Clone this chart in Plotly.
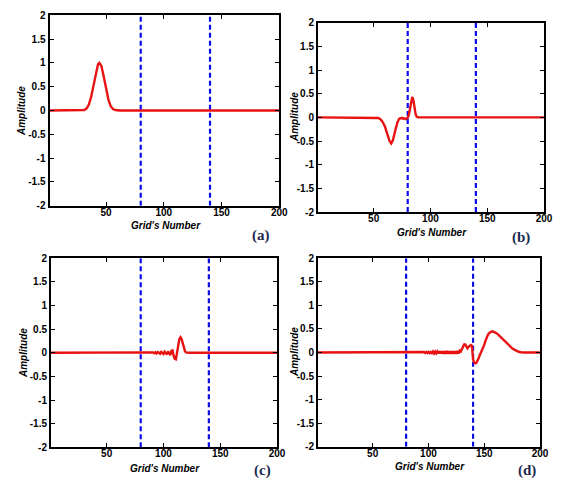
import plotly.graph_objects as go

# ---------------- data ----------------
X_A = [1, 20, 31, 33, 35, 37, 39, 41, 43, 44.2, 46, 48, 50, 52, 54, 56, 58, 62, 200]
Y_A = [0, 0, 0.01, 0.04, 0.12, 0.28, 0.52, 0.78, 0.97, 1.0, 0.93, 0.71, 0.45, 0.23, 0.09, 0.03, 0.01, 0, 0]

X_B = [1, 50, 52, 54, 56, 58, 60, 62, 64, 65.5, 67, 69, 71, 72.5, 74, 75, 76, 77, 78, 79, 80,
       81, 82, 83, 84, 85, 86, 87, 88, 90, 200]
Y_B = [0, 0, -0.005, -0.015, -0.04, -0.1, -0.2, -0.35, -0.5, -0.55, -0.48, -0.28, -0.1, -0.03,
       -0.02, -0.01, -0.03, -0.02, -0.035, -0.02, -0.01,
       0.05, 0.18, 0.36, 0.43, 0.36, 0.18, 0.06, 0.01, 0, 0]

X_C = [1, 90, 91, 92, 93, 94, 95, 96, 97, 98, 99, 100, 101, 102, 103, 104, 105, 106, 107, 108,
       109, 110, 111, 112, 113, 114, 115, 116, 117, 118, 119, 120, 121, 122, 200]
Y_C = [0, 0, 0.01, -0.01, 0.01, -0.015, 0.015, 0.0, -0.02, 0.02, -0.01, -0.025, 0.025, 0.0,
       -0.035, 0.03, 0.0, -0.05, 0.04, 0.05, -0.06, -0.13, -0.14, -0.03, 0.15, 0.29, 0.33,
       0.29, 0.18, 0.08, 0.03, 0.01, 0.0, 0, 0]

X_D = [1, 95, 96, 97, 98, 99, 100, 101, 102, 103, 104, 105, 106, 107, 108, 109, 110, 111, 112,
       113, 114, 115, 116, 117, 118, 119, 120, 121, 122, 123, 124, 125, 126, 127, 128, 129, 130,
       131, 132, 133, 134, 135, 136, 137, 138, 139, 140, 141, 142, 143, 144, 145, 146, 147, 148,
       149, 150, 151, 152, 153, 154, 155, 156, 157.5, 159, 161, 163, 165, 167, 169, 171, 173,
       175, 177, 179, 181, 183, 185, 200]
Y_D = [0, 0, 0.01, -0.01, 0.01, -0.01, 0.015, -0.015, 0.01, -0.015, 0.02, -0.02, 0.02, -0.02,
       0.02, -0.02, 0.025, -0.02, 0.025, -0.025, 0.025, -0.025, 0.03, -0.025, 0.03, -0.03, 0.03,
       -0.03, 0.03, -0.03, 0.03, -0.03, 0.035, -0.02, 0.04, 0.02, 0.07,
       0.13, 0.17, 0.17, 0.12, 0.09, 0.12, 0.15, 0.16, 0.14, -0.15, -0.21, -0.23, -0.22, -0.18,
       -0.12, -0.06, -0.01, 0.04,
       0.08, 0.16, 0.24, 0.31, 0.36, 0.4, 0.43, 0.44, 0.45, 0.44, 0.41, 0.37, 0.32, 0.27, 0.22,
       0.17, 0.13, 0.09, 0.06, 0.03, 0.015, 0.005, 0, 0]

DIVIDERS = [80, 140]
Y_SPAN = [-2, 2]
X_TICKS = [50, 100, 150, 200]
Y_TICKS = [-2, -1.5, -1, -0.5, 0, 0.5, 1, 1.5, 2]
Y_TICK_TEXT = ["-2", "-1.5", "-1", "-0.5", "0", "0.5", "1", "1.5", "2"]
PANEL_LABELS = ["(a)", "(b)", "(c)", "(d)"]
X_TITLE = "Grid's Number"
Y_TITLE = "Amplitude"

W, H = 583, 485
# panel boxes in pixels: left, right, top, bottom
BOXES = [(49.5, 279.3, 15.3, 205.7), (318, 544, 22.7, 212), (51, 277, 258.3, 447.3), (318, 540, 258.3, 446.7)]
XT_POS = [(165.5, 225.5), (432, 232), (164.7, 468.5), (430, 466.5)]
YT_POS = [(22, 111), (294, 117), (23.3, 352.7), (294, 352)]
PL_POS = [(261, 235), (521, 237), (262, 470), (527, 470)]
SERIES = [(X_A, Y_A), (X_B, Y_B), (X_C, Y_C), (X_D, Y_D)]

RED = "rgb(232,18,18)"
BLUE = "rgb(10,10,235)"
TICKFONT = dict(family="Liberation Sans, Arial", size=10, color="black", weight="bold")
TITLEFONT = dict(family="Liberation Sans, Arial", size=10, color="black", weight="bold", style="italic")

fig = go.Figure()
layout = dict(width=W, height=H, margin=dict(l=0, r=0, t=0, b=0, autoexpand=False),
              paper_bgcolor="white", plot_bgcolor="white", showlegend=False)
annotations = []

for i, ((xs, ys), (l, r, t, b)) in enumerate(zip(SERIES, BOXES)):
    n = "" if i == 0 else str(i + 1)
    xa, ya = "x" + n, "y" + n
    for d in DIVIDERS:
        fig.add_trace(go.Scatter(x=[d, d], y=Y_SPAN, mode="lines", xaxis=xa, yaxis=ya,
                                 line=dict(color=BLUE, width=2.2, dash="5px,3px"),
                                 hoverinfo="skip"))
    fig.add_trace(go.Scatter(x=xs, y=ys, mode="lines", xaxis=xa, yaxis=ya,
                             line=dict(color=RED, width=2.4)))
    common = dict(showgrid=False, zeroline=False, showline=True, linecolor="black",
                  linewidth=2, mirror="ticks", ticks="inside", ticklen=4, tickwidth=1.3,
                  tickcolor="black", tickfont=TICKFONT, automargin=False)
    layout["xaxis" + n] = dict(common, domain=[l / W, r / W], range=[1, 200],
                               tickvals=X_TICKS, anchor=ya, ticklabelstandoff=-4)
    layout["yaxis" + n] = dict(common, domain=[1 - b / H, 1 - t / H], range=[-2, 2],
                               tickvals=Y_TICKS, ticktext=Y_TICK_TEXT, anchor=xa)
    annotations.append(dict(x=XT_POS[i][0] / W, y=1 - XT_POS[i][1] / H, xref="paper", yref="paper",
                            text=X_TITLE, showarrow=False, font=TITLEFONT,
                            xanchor="center", yanchor="middle"))
    annotations.append(dict(x=YT_POS[i][0] / W, y=1 - YT_POS[i][1] / H, xref="paper", yref="paper",
                            text=Y_TITLE, showarrow=False, font=TITLEFONT, textangle=-90,
                            xanchor="center", yanchor="middle"))
    annotations.append(dict(x=PL_POS[i][0] / W, y=1 - PL_POS[i][1] / H, xref="paper", yref="paper",
                            text=PANEL_LABELS[i], showarrow=False,
                            font=dict(family="Liberation Serif, Times New Roman", size=15,
                                      color="#1c2a4e", weight="bold"),
                            xanchor="center", yanchor="middle"))

layout["annotations"] = annotations
fig.update_layout(**layout)
fig.write_html("out.html")
